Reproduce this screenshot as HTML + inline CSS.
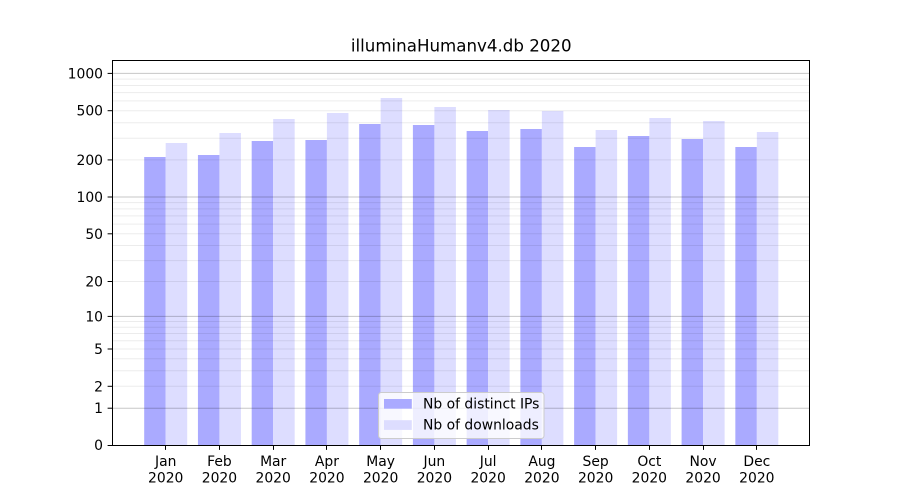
<!DOCTYPE html>
<html><head><meta charset="utf-8"><style>
html,body{margin:0;padding:0;background:#fff;}
svg{display:block;}
text{font-family:"DejaVu Sans","Liberation Sans",sans-serif;fill:#000;}
</style></head><body>
<svg width="900" height="500" viewBox="0 0 900 500" xmlns="http://www.w3.org/2000/svg">
<rect width="900" height="500" fill="#fff"/>
<!-- bars IP -->
<g fill="#aaaaff">
<rect x="144.2" y="157" width="21.5" height="288"/>
<rect x="197.94" y="155" width="21.5" height="290"/>
<rect x="251.68" y="141" width="21.5" height="304"/>
<rect x="305.42" y="140" width="21.5" height="305"/>
<rect x="359.16" y="124" width="21.5" height="321"/>
<rect x="412.9" y="125" width="21.5" height="320"/>
<rect x="466.64" y="131" width="21.5" height="314"/>
<rect x="520.38" y="129" width="21.5" height="316"/>
<rect x="574.12" y="147" width="21.5" height="298"/>
<rect x="627.86" y="136" width="21.5" height="309"/>
<rect x="681.6" y="139" width="21.5" height="306"/>
<rect x="735.34" y="147" width="21.5" height="298"/>
</g>
<!-- bars downloads -->
<g fill="#ddddff">
<rect x="165.7" y="143" width="21.5" height="302"/>
<rect x="219.44" y="133" width="21.5" height="312"/>
<rect x="273.18" y="119" width="21.5" height="326"/>
<rect x="326.92" y="113" width="21.5" height="332"/>
<rect x="380.66" y="98" width="21.5" height="347"/>
<rect x="434.4" y="107" width="21.5" height="338"/>
<rect x="488.14" y="110" width="21.5" height="335"/>
<rect x="541.88" y="111" width="21.5" height="334"/>
<rect x="595.62" y="130" width="21.5" height="315"/>
<rect x="649.36" y="118" width="21.5" height="327"/>
<rect x="703.1" y="121" width="21.5" height="324"/>
<rect x="756.84" y="132" width="21.5" height="313"/>
</g>
<!-- minor grid -->
<g stroke="#000" stroke-opacity="0.075" stroke-width="1">
<line x1="112.5" x2="810" y1="386.3" y2="386.3"/>
<line x1="112.5" x2="810" y1="370.8" y2="370.8"/>
<line x1="112.5" x2="810" y1="358.8" y2="358.8"/>
<line x1="112.5" x2="810" y1="349" y2="349"/>
<line x1="112.5" x2="810" y1="340.7" y2="340.7"/>
<line x1="112.5" x2="810" y1="333.5" y2="333.5"/>
<line x1="112.5" x2="810" y1="327.2" y2="327.2"/>
<line x1="112.5" x2="810" y1="321.5" y2="321.5"/>
<line x1="112.5" x2="810" y1="281.5" y2="281.5"/>
<line x1="112.5" x2="810" y1="260.6" y2="260.6"/>
<line x1="112.5" x2="810" y1="245.5" y2="245.5"/>
<line x1="112.5" x2="810" y1="233.8" y2="233.8"/>
<line x1="112.5" x2="810" y1="224.1" y2="224.1"/>
<line x1="112.5" x2="810" y1="215.9" y2="215.9"/>
<line x1="112.5" x2="810" y1="208.9" y2="208.9"/>
<line x1="112.5" x2="810" y1="202.6" y2="202.6"/>
<line x1="112.5" x2="810" y1="159.9" y2="159.9"/>
<line x1="112.5" x2="810" y1="138.2" y2="138.2"/>
<line x1="112.5" x2="810" y1="122.7" y2="122.7"/>
<line x1="112.5" x2="810" y1="110.7" y2="110.7"/>
<line x1="112.5" x2="810" y1="100.9" y2="100.9"/>
<line x1="112.5" x2="810" y1="92.6" y2="92.6"/>
<line x1="112.5" x2="810" y1="85.5" y2="85.5"/>
<line x1="112.5" x2="810" y1="79.1" y2="79.1"/>
</g>
<!-- major grid -->
<g stroke="#000" stroke-opacity="0.22" stroke-width="1">
<line x1="112.5" x2="810" y1="408.2" y2="408.2"/>
<line x1="112.5" x2="810" y1="316.4" y2="316.4"/>
<line x1="112.5" x2="810" y1="197" y2="197"/>
<line x1="112.5" x2="810" y1="73.4" y2="73.4"/>
</g>
<!-- frame -->
<rect x="112.5" y="60.5" width="697" height="385" fill="none" stroke="#000" stroke-width="1"/>
<!-- y ticks -->
<g stroke="#000" stroke-width="1">
<line x1="107.6" x2="112.5" y1="445.5" y2="445.5"/>
<line x1="107.6" x2="112.5" y1="408.2" y2="408.2"/>
<line x1="107.6" x2="112.5" y1="386.3" y2="386.3"/>
<line x1="107.6" x2="112.5" y1="349" y2="349"/>
<line x1="107.6" x2="112.5" y1="316.4" y2="316.4"/>
<line x1="107.6" x2="112.5" y1="281.5" y2="281.5"/>
<line x1="107.6" x2="112.5" y1="233.8" y2="233.8"/>
<line x1="107.6" x2="112.5" y1="197" y2="197"/>
<line x1="107.6" x2="112.5" y1="159.9" y2="159.9"/>
<line x1="107.6" x2="112.5" y1="110.7" y2="110.7"/>
<line x1="107.6" x2="112.5" y1="73.4" y2="73.4"/>
</g>
<g font-size="13.9" text-anchor="end">
<text x="103" y="450">0</text>
<text x="103" y="413.2">1</text>
<text x="103" y="391.3">2</text>
<text x="103" y="354">5</text>
<text x="103" y="321.4">10</text>
<text x="103" y="286.5">20</text>
<text x="103" y="238.8">50</text>
<text x="103" y="202">100</text>
<text x="103" y="164.9">200</text>
<text x="103" y="115.7">500</text>
<text x="103" y="78.4">1000</text>
</g>
<!-- x ticks -->
<g stroke="#000" stroke-width="1">
<line x1="165.5" x2="165.5" y1="445" y2="449.9"/>
<line x1="219.5" x2="219.5" y1="445" y2="449.9"/>
<line x1="273.5" x2="273.5" y1="445" y2="449.9"/>
<line x1="326.5" x2="326.5" y1="445" y2="449.9"/>
<line x1="380.5" x2="380.5" y1="445" y2="449.9"/>
<line x1="434.5" x2="434.5" y1="445" y2="449.9"/>
<line x1="488.5" x2="488.5" y1="445" y2="449.9"/>
<line x1="541.5" x2="541.5" y1="445" y2="449.9"/>
<line x1="595.5" x2="595.5" y1="445" y2="449.9"/>
<line x1="649.5" x2="649.5" y1="445" y2="449.9"/>
<line x1="703.5" x2="703.5" y1="445" y2="449.9"/>
<line x1="756.5" x2="756.5" y1="445" y2="449.9"/>
</g>
<g font-size="13.9" text-anchor="middle">
<text x="165.7" y="466">Jan</text><text x="165.7" y="482.5">2020</text>
<text x="219.44" y="466">Feb</text><text x="219.44" y="482.5">2020</text>
<text x="273.18" y="466">Mar</text><text x="273.18" y="482.5">2020</text>
<text x="326.92" y="466">Apr</text><text x="326.92" y="482.5">2020</text>
<text x="380.66" y="466">May</text><text x="380.66" y="482.5">2020</text>
<text x="434.4" y="466">Jun</text><text x="434.4" y="482.5">2020</text>
<text x="488.14" y="466">Jul</text><text x="488.14" y="482.5">2020</text>
<text x="541.88" y="466">Aug</text><text x="541.88" y="482.5">2020</text>
<text x="595.62" y="466">Sep</text><text x="595.62" y="482.5">2020</text>
<text x="649.36" y="466">Oct</text><text x="649.36" y="482.5">2020</text>
<text x="703.1" y="466">Nov</text><text x="703.1" y="482.5">2020</text>
<text x="756.84" y="466">Dec</text><text x="756.84" y="482.5">2020</text>
</g>
<!-- title -->
<text x="461.25" y="51.5" font-size="16.67" text-anchor="middle">illuminaHumanv4.db 2020</text>
<!-- legend -->
<rect x="378.5" y="392.5" width="165.5" height="46" rx="2.8" ry="2.8" fill="#fff" fill-opacity="0.8" stroke="#cccccc" stroke-width="1"/>
<rect x="384" y="399" width="27.8" height="9.7" fill="#aaaaff"/>
<rect x="384" y="420.2" width="27.8" height="9.7" fill="#ddddff"/>
<text x="423" y="408.5" font-size="13.9">Nb of distinct IPs</text>
<text x="423" y="429.6" font-size="13.9">Nb of downloads</text>
</svg>
</body></html>
